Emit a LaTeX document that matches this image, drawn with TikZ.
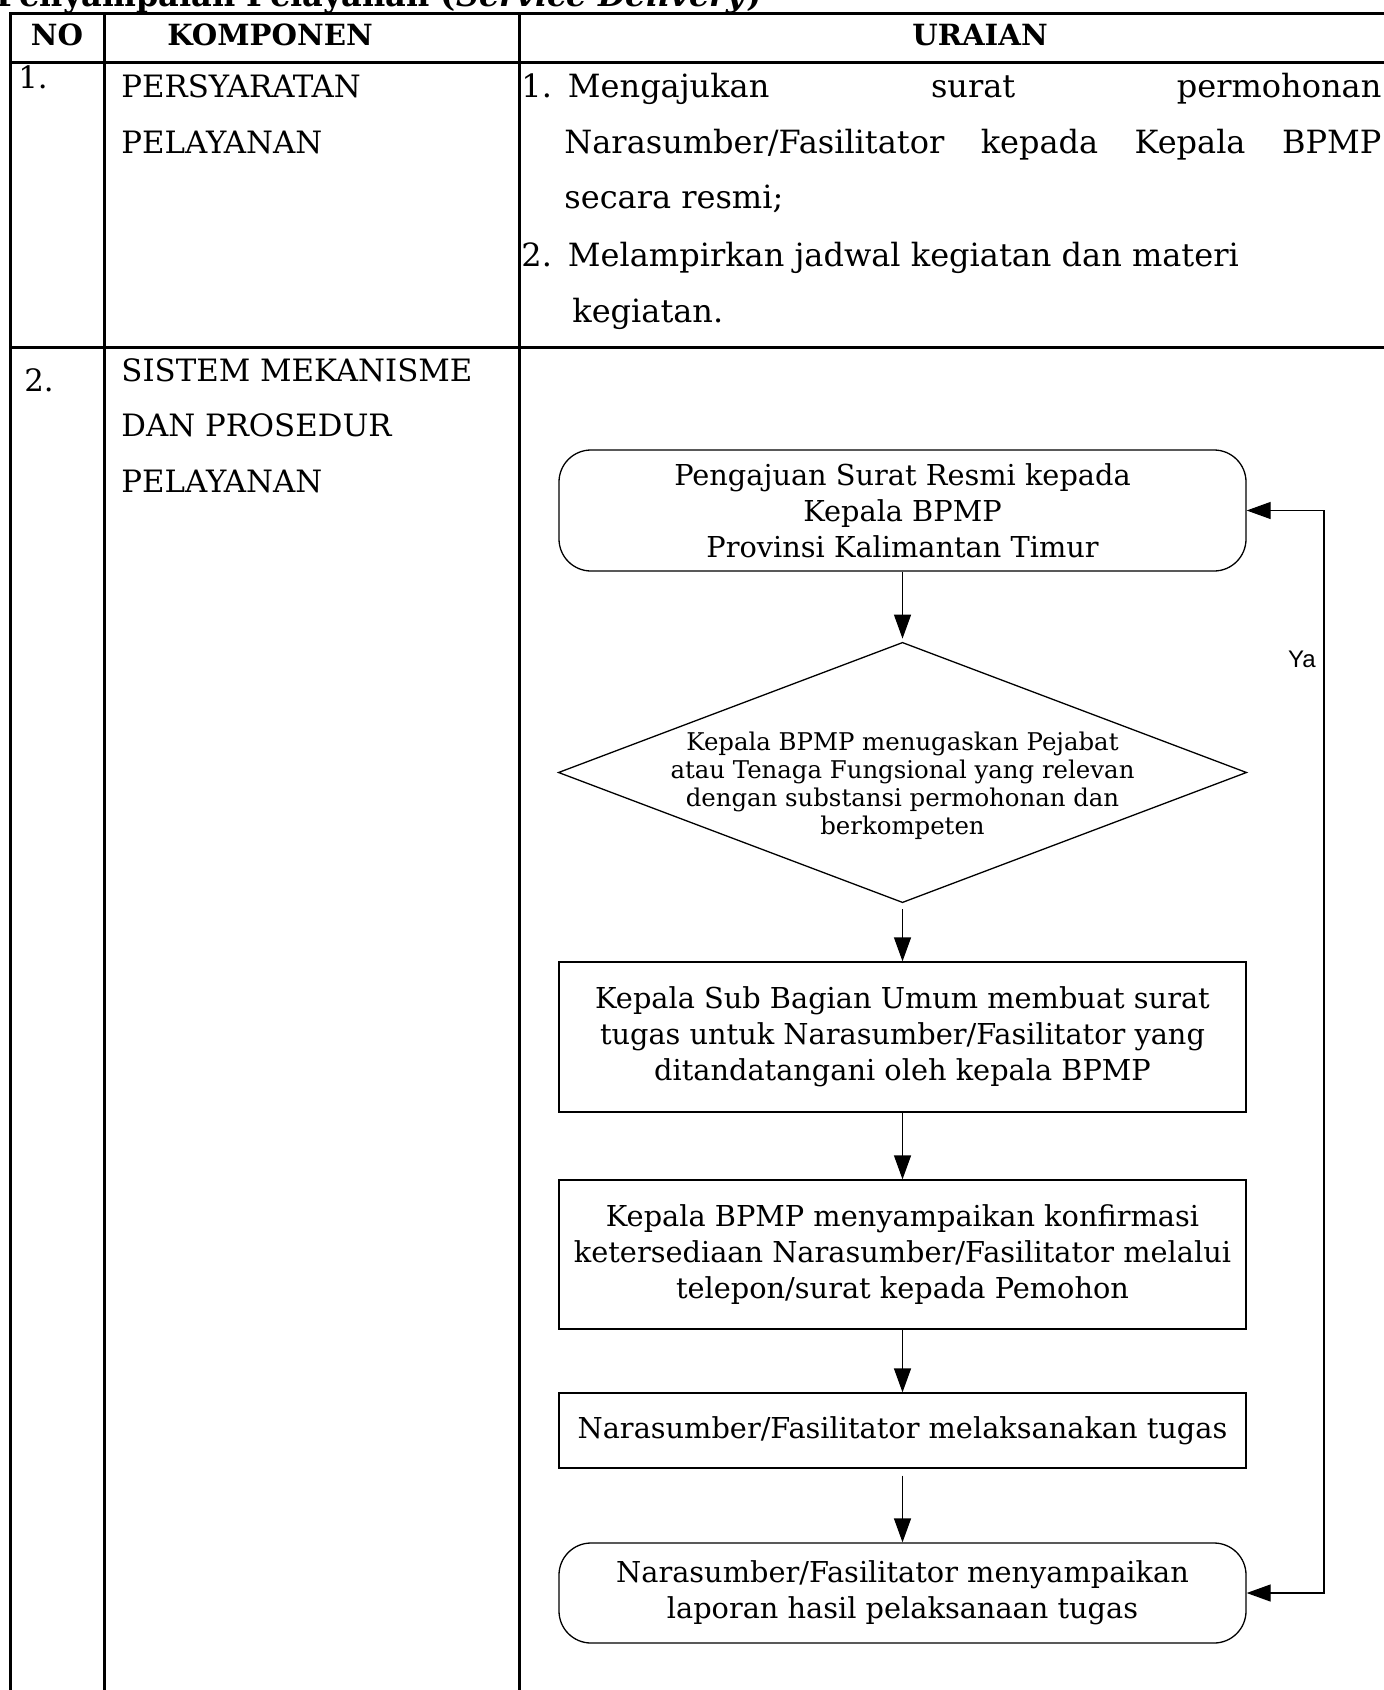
\documentclass[tikz,border=0pt]{standalone}
\usepackage{fontspec}
\setmainfont{DejaVu Serif}
\newfontfamily\yafont{Liberation Sans}
\usetikzlibrary{arrows.meta,shapes.geometric}
\tikzset{
  grid/.style={line width=1.5pt,line cap=rect},
  tx/.style={inner sep=0pt,anchor=base west,font=\fontsize{15.4pt}{18pt}\selectfont},
  txl/.style={inner sep=0pt,anchor=base west,font=\fontsize{16pt}{18pt}\selectfont},
  hd/.style={inner sep=0pt,anchor=base,font=\fontsize{14.6pt}{18pt}\selectfont\bfseries},
  flow/.style={draw,line width=0.65pt,inner sep=0pt,minimum width=343.5pt,align=center,
    font=\fontsize{14.4pt}{18pt}\selectfont},
  rbox/.style={flow,rounded corners=16pt},
  tip/.tip={Triangle[length=12pt,width=8.5pt]},
  conn/.style={line width=0.65pt,-tip},
}
\begin{document}
\begin{tikzpicture}[x=0.5pt,y=-0.5pt]
\useasboundingbox (0,0) rectangle (1383,1690);
% title (cut off at the top)
\node[inner sep=0pt,anchor=base west,font=\fontsize{16pt}{18pt}\selectfont\bfseries] (title) at (-4,7) {Penyampaian Pelayanan (\textit{Service Delivery})};
% table grid
\draw[grid] (10,14) -- (1390,14);
\draw[grid] (10,63) -- (1390,63);
\draw[grid] (10,348) -- (1390,348);
\draw[grid] (10,14) -- (10,1700);
\draw[grid] (104,14) -- (104,1700);
\draw[grid] (519,14) -- (519,1700);
% header
\node[hd] (hno) at (57,46) {NO};
\node[hd] (hkomp) at (270,46) {KOMPONEN};
\node[hd] (hur) at (980,46) {URAIAN};
% row 1
\node[tx] (n1) at (18,89) {1.};
\node[tx] (k1a) at (121,98) {PERSYARATAN};
\node[tx] (k1b) at (121,153.5) {PELAYANAN};
\node[txl] (u1a) at (521,98) {\makebox[430pt][s]{1.\hspace{8pt}Mengajukan surat permohonan}};
\node[txl] (u1b) at (564,153.5) {\makebox[408.5pt][s]{Narasumber/Fasilitator kepada Kepala BPMP}};
\node[txl] (u1c) at (564,209) {secara resmi;};
\node[txl] (u1d) at (521,266.5) {2.\hspace{8pt}Melampirkan jadwal kegiatan dan materi};
\node[txl] (u1e) at (572,322) {kegiatan.};
% row 2
\node[tx] (n2) at (24,391) {2.};
\node[tx] (k2a) at (121,381) {SISTEM MEKANISME};
\node[tx] (k2b) at (121,436.5) {DAN PROSEDUR};
\node[tx] (k2c) at (121,492) {PELAYANAN};
% flowchart
\node[rbox,minimum height=60.5pt] (b1) at (902.5,510.5) {Pengajuan Surat Resmi kepada\\Kepala BPMP\\Provinsi Kalimantan Timur};
\node[inner sep=0pt,minimum width=343.5pt,minimum height=129.5pt] (dia) at (902.5,772.5) {};
\draw[line width=0.65pt] (dia.north) -- (dia.east) -- (dia.south) -- (dia.west) -- cycle;
\node[inner sep=0pt,align=center,font=\fontsize{12.2pt}{14pt}\selectfont] (diat) at (902.5,786)
  {Kepala BPMP menugaskan Pejabat\\atau Tenaga Fungsional yang relevan\\dengan substansi permohonan dan\\berkompeten};
\node[flow,minimum height=75pt] (b3) at (902.5,1037) {Kepala Sub Bagian Umum membuat surat\\tugas untuk Narasumber/Fasilitator yang\\ditandatangani oleh kepala BPMP};
\node[flow,minimum height=74.5pt] (b4) at (902.5,1254.5) {Kepala BPMP menyampaikan konfirmasi\\ketersediaan Narasumber/Fasilitator melalui\\telepon/surat kepada Pemohon};
\node[flow,minimum height=37.5pt] (b5) at (902.5,1430.5) {Narasumber/Fasilitator melaksanakan tugas};
\node[rbox,minimum height=50pt] (b6) at (902.5,1593) {Narasumber/Fasilitator menyampaikan\\laporan hasil pelaksanaan tugas};
% connectors
\draw[conn] (b1.south) -- ([yshift=2pt]dia.north);
\draw[conn] ([yshift=-3.5pt]dia.south) -- (b3.north);
\draw[conn] (b3.south) -- (b4.north);
\draw[conn] (b4.south) -- (b5.north);
\draw[conn] ([yshift=-3.5pt]b5.south) -- (b6.north);
\coordinate (loop) at (1324,1000);
\draw[line width=0.65pt,tip-tip]
  (b1.east) -- (b1.east -| loop) -- (b6.east -| loop) -- (b6.east);
\node[inner sep=0pt,anchor=base,font=\yafont\fontsize{12pt}{14pt}\selectfont] (ya) at (1302,667) {Ya};
\end{tikzpicture}
\end{document}
